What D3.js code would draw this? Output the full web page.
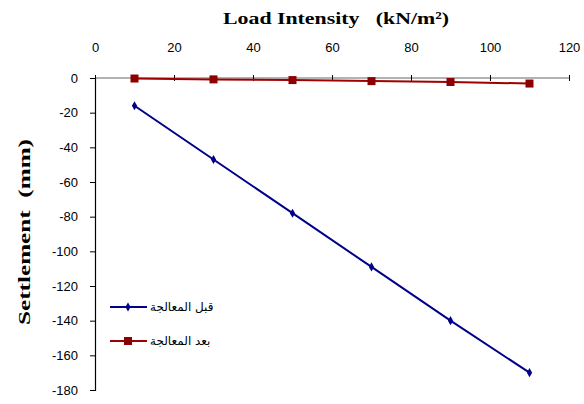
<!DOCTYPE html>
<html><head><meta charset="utf-8">
<script src="https://cdn.jsdelivr.net/npm/d3@7"></script>
<style>body{margin:0;background:#fff}svg{display:block}</style>
</head><body>
<svg id="c" width="584" height="404"></svg>
<script>
const loads = [10, 30, 50, 70, 90, 110];
const beforeVals = [-16, -47, -78, -109, -140, -170];
const afterVals = [-0.3, -0.8, -1.2, -1.8, -2.3, -3.2];
const seriesNames = ["قبل المعالجة", "بعد المعالجة"];
const xTicks = [0, 20, 40, 60, 80, 100, 120];
const yTicks = [0, -20, -40, -60, -80, -100, -120, -140, -160, -180];
const xTitle = "Load Intensity   (kN/m²)";
const yTitle = "Settlement  (mm)";

const svg = d3.select("#c");
const x = d3.scaleLinear().domain([0, 120]).range([95, 569]);
const y = d3.scaleLinear().domain([0, -180]).range([78, 390]);
const fmt = d => String(d);

// y axis
const ya = svg.append("g").attr("transform", "translate(95,0)")
  .call(d3.axisLeft(y).tickValues(yTicks).tickFormat(fmt).tickSize(5).tickPadding(12));
ya.select(".domain").attr("stroke", "#000").attr("stroke-width", 1.2);
ya.selectAll("text").attr("font-family", "Liberation Sans, Arial, sans-serif").attr("font-size", 13).attr("fill", "#000");

// x axis at y=0
const xa = svg.append("g").attr("transform", `translate(0,${y(0)})`)
  .call(d3.axisTop(x).tickValues(xTicks).tickFormat(fmt).tickSize(0).tickPadding(0));
xa.select(".domain").attr("stroke", "none");
xa.selectAll(".tick line").remove();
xa.selectAll(".tick").append("line").attr("y1", -3).attr("y2", 3).attr("stroke", "#000").attr("stroke-width", 1);
xa.selectAll("text").attr("y", 0).attr("transform", `translate(0,${47 - y(0)})`).attr("dy", "0.35em")
  .attr("font-family", "Liberation Sans, Arial, sans-serif").attr("font-size", 13).attr("fill", "#000");
svg.append("line").attr("x1", x(0)).attr("x2", x(120)).attr("y1", y(0)).attr("y2", y(0)).attr("stroke", "#000").attr("stroke-width", 0.6);

const line = d3.line().x(d => x(d[0])).y(d => y(d[1]));
const bData = loads.map((l, i) => [l, beforeVals[i]]);
const aData = loads.map((l, i) => [l, afterVals[i]]);

svg.append("path").datum(bData).attr("d", line).attr("fill", "none").attr("stroke", "#00008b").attr("stroke-width", 2);
svg.append("path").datum(aData).attr("d", line).attr("fill", "none").attr("stroke", "#a00000").attr("stroke-width", 2);

svg.selectAll(".bm").data(bData).enter().append("path")
  .attr("d", d3.symbol(d3.symbolDiamond, 24)())
  .attr("transform", d => `translate(${x(d[0])},${y(d[1])})`).attr("fill", "#00008b");
svg.selectAll(".am").data(aData).enter().append("rect")
  .attr("x", d => x(d[0]) - 4).attr("y", d => y(d[1]) - 4).attr("width", 8).attr("height", 8).attr("fill", "#8b0000");

// titles
svg.append("text").attr("x", 336).attr("y", 24).attr("text-anchor", "middle")
  .style("white-space", "pre")
  .attr("font-family", "Liberation Serif, Times New Roman, serif").attr("font-weight", "bold").attr("font-size", 17)
  .attr("textLength", 226).attr("lengthAdjust", "spacingAndGlyphs")
  .text(xTitle);
svg.append("text").attr("transform", "translate(30,232) rotate(-90)").attr("text-anchor", "middle")
  .style("white-space", "pre")
  .attr("font-family", "Liberation Serif, Times New Roman, serif").attr("font-weight", "bold").attr("font-size", 17)
  .attr("textLength", 186).attr("lengthAdjust", "spacingAndGlyphs")
  .text(yTitle);

// legend
const legY = [307, 341];
const legCol = ["#00008b", "#a00000"];
seriesNames.forEach((n, i) => {
  const g = svg.append("g");
  g.append("line").attr("x1", 110).attr("x2", 147).attr("y1", legY[i]).attr("y2", legY[i]).attr("stroke", legCol[i]).attr("stroke-width", 2);
  if (i === 0) g.append("path").attr("d", d3.symbol(d3.symbolDiamond, 24)()).attr("transform", `translate(128,${legY[i]})`).attr("fill", legCol[i]);
  else g.append("rect").attr("x", 124).attr("y", legY[i] - 4).attr("width", 8).attr("height", 8).attr("fill", "#8b0000");
  g.append("text").attr("x", 150).attr("y", legY[i]).attr("dy", "0.35em")
    .attr("font-family", "DejaVu Sans, Noto Sans, sans-serif").attr("font-size", 12)
    .text(n);
});
</script>
</body></html>
